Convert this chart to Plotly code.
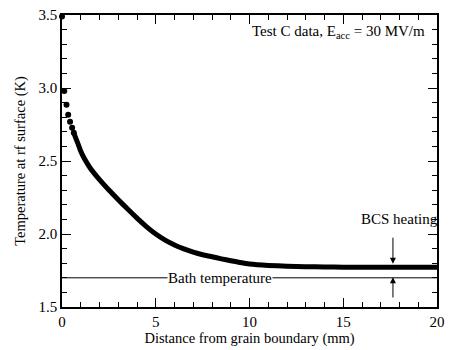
import plotly.graph_objects as go

# Data
# isolated points near the grain boundary
dot_distance_mm = [0, 0.12, 0.24, 0.33, 0.43, 0.54, 0.63]
dot_temperature_K = [3.49, 2.98, 2.886, 2.817, 2.768, 2.727, 2.693]
# dense (merged) part of the curve
distance_mm = [0.63, 0.75, 0.9, 1.0, 1.2, 1.5, 2.0, 2.5, 3.0, 3.5, 4.0, 4.5, 5.0,
               5.5, 6.0, 6.5, 7.0, 7.5, 8.0, 8.5, 9.0, 9.5, 10, 11, 12, 13, 14, 15,
               16, 17, 18, 19, 20]
temperature_K = [2.693, 2.652, 2.602, 2.567, 2.515, 2.452, 2.372, 2.301, 2.235, 2.171,
                 2.109, 2.051, 2.0, 1.958, 1.925, 1.898, 1.876, 1.858, 1.844, 1.83,
                 1.817, 1.805, 1.795, 1.785, 1.779, 1.776, 1.774, 1.773, 1.773, 1.773,
                 1.773, 1.773, 1.773]
bath_x = [0, 20]
bath_T = [1.70, 1.70]
x_ticks = [0, 5, 10, 15, 20]
y_ticks = [1.5, 2.0, 2.5, 3.0, 3.5]

FONT = "Liberation Serif, Times New Roman, serif"

fig = go.Figure()
fig.add_trace(go.Scatter(x=bath_x, y=bath_T, mode="lines",
                         line=dict(color="black", width=1), showlegend=False,
                         hoverinfo="skip"))
fig.add_trace(go.Scatter(x=distance_mm, y=temperature_K, mode="lines",
                         line=dict(color="black", width=5, shape="spline", smoothing=0.6),
                         cliponaxis=False, showlegend=False))
fig.add_trace(go.Scatter(x=dot_distance_mm, y=dot_temperature_K, mode="markers",
                         marker=dict(color="black", size=6),
                         cliponaxis=False, showlegend=False))

axis_common = dict(showline=True, linecolor="black", linewidth=1.5, mirror="ticks",
                   ticks="inside", ticklen=9, tickwidth=1, tickcolor="black",
                   showgrid=False, zeroline=False,
                   tickfont=dict(family=FONT, size=15, color="black"))

fig.update_xaxes(range=[0, 20], tickvals=x_ticks, ticktext=[str(v) for v in x_ticks],
                 minor=dict(dtick=1, ticks="inside", ticklen=5, tickcolor="black", tickwidth=1),
                 title=dict(text="Distance from grain boundary (mm)",
                            font=dict(family=FONT, size=14.5, color="black"), standoff=2),
                 **axis_common)
fig.update_yaxes(range=[1.5, 3.5], tickvals=y_ticks, ticktext=[f"{v:.1f}" for v in y_ticks],
                 minor=dict(dtick=0.1, ticks="inside", ticklen=5, tickcolor="black", tickwidth=1),
                 title=dict(text="Temperature at rf surface (K)",
                            font=dict(family=FONT, size=14.5, color="black"), standoff=9),
                 **axis_common)

ann_font = dict(family=FONT, size=15, color="black")
fig.add_annotation(text="Test C data, E<sub>acc</sub> = 30 MV/m", xref="paper", yref="y",
                   x=1, y=3.385, xanchor="right", xshift=-10, showarrow=False, font=ann_font)
fig.add_annotation(text="Bath temperature", x=8.45, y=1.70, showarrow=False,
                   bgcolor="white", font=ann_font, borderpad=0)
fig.add_annotation(text="BCS heating", x=18.0, y=2.105, showarrow=False, font=ann_font)
fig.add_annotation(x=17.65, y=1.797, ax=17.65, ay=1.985, axref="x", ayref="y",
                   showarrow=True, arrowhead=2, arrowsize=1.2, arrowwidth=1, arrowcolor="black", text="")
fig.add_annotation(x=17.65, y=1.703, ax=17.65, ay=1.555, axref="x", ayref="y",
                   showarrow=True, arrowhead=2, arrowsize=1.2, arrowwidth=1, arrowcolor="black", text="")

fig.update_layout(width=452, height=350, margin=dict(l=62, r=7, t=15, b=43),
                  paper_bgcolor="white", plot_bgcolor="white",
                  font=dict(family=FONT, color="black"))

fig.write_html("out.html")
